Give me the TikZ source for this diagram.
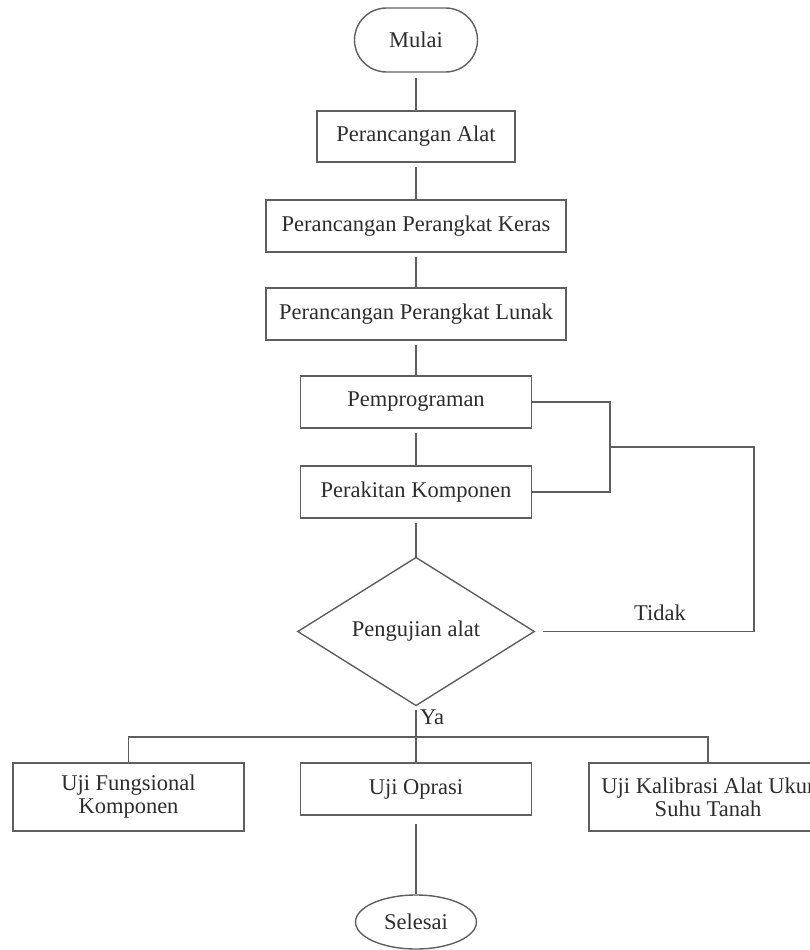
\documentclass[tikz,border=0pt]{standalone}
\usepackage{fontspec}
\setmainfont{Liberation Serif}
\usetikzlibrary{shapes.geometric}
\definecolor{ln}{RGB}{95,95,95}
\definecolor{tx}{RGB}{45,45,45}
\begin{document}
\begin{tikzpicture}[x=1pt,y=1pt,
  every node/.style={font=\fontsize{22.5}{23}\selectfont, text=tx},
  box/.style={draw=ln, line width=1.4pt, rectangle, inner sep=0pt, align=center},
  term/.style={box, rounded corners=32pt},
  oval/.style={draw=ln, line width=1.4pt, ellipse, inner sep=0pt},
  decide/.style={draw=ln, line width=1.4pt, diamond, inner sep=0pt},
  conn/.style={draw=ln, line width=1.4pt},
  lbl/.style={inner sep=0pt}
]
\useasboundingbox (0,0) rectangle (810,-950);

\node[term, minimum width=123, minimum height=64] (start) at (416,-40) {Mulai};
\node[box, minimum width=198, minimum height=51] (alat) at (416,-136.5) {Perancangan Alat};
\node[box, minimum width=300, minimum height=52] (keras) at (416,-226) {Perancangan Perangkat Keras};
\node[box, minimum width=300, minimum height=52] (lunak) at (416,-314) {Perancangan Perangkat Lunak};
\node[box, minimum width=231, minimum height=52] (prog) at (416,-402) {Pemprograman};
\node[box, minimum width=231, minimum height=52] (rakit) at (416,-492) {Perakitan Komponen};
\node[decide, minimum width=237, minimum height=123] (uji) at (416,-631.5) {Pengujian alat};
\node[box, minimum width=231, minimum height=68] (fung) at (128.5,-797) {Uji Fungsional\\Komponen};
\node[box, minimum width=231, minimum height=52] (oprasi) at (416,-789) {Uji Oprasi};
\node[box, minimum width=238, minimum height=68] (kalib) at (708,-797) {Uji Kalibrasi Alat Ukur\\Suhu Tanah};
\node[oval, minimum width=121, minimum height=54] (selesai) at (416,-922) {Selesai};

\coordinate (j) at (610,-447);
\coordinate (c1) at (754,-447);
\coordinate (h) at (416,-737);

\draw[conn, shorten <=5pt] (start) -- (alat);
\draw[conn, shorten <=4pt] (alat) -- (keras);
\draw[conn, shorten <=4pt] (keras) -- (lunak);
\draw[conn, shorten <=4pt] (lunak) -- (prog);
\draw[conn, shorten <=4pt] (prog) -- (rakit);
\draw[conn, shorten <=4pt] (rakit) -- (uji);

\draw[conn] (prog.east) -| (j) |- (rakit.east);
\draw[conn] (j) -- (c1) |- ([xshift=8pt]uji.east);
\node[lbl] (tidak) at (660,-613) {Tidak};

\draw[conn, shorten <=4pt] (uji.south) -- (oprasi.north);
\node[lbl] (ya) at (432,-717) {Ya};
\draw[conn] (fung.north) |- (h) -| (kalib.north);

\draw[conn, shorten <=8pt] (oprasi) -- (selesai);
\end{tikzpicture}
\end{document}
